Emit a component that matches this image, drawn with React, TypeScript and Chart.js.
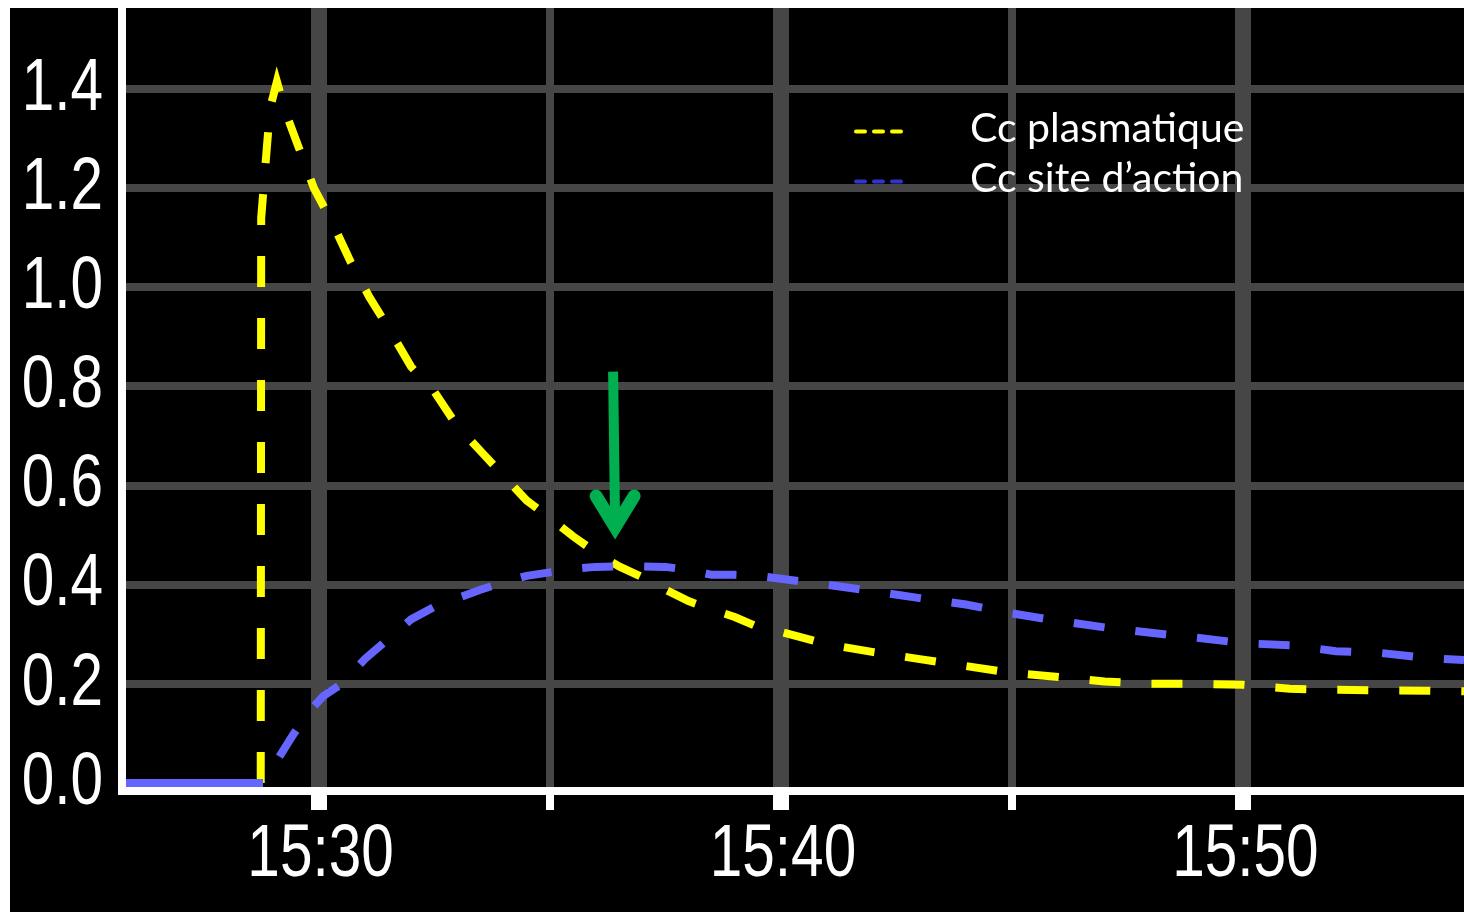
import { useEffect, useRef } from 'react';
import { Chart, registerables } from 'chart.js';

Chart.register(...registerables);

// time in minutes after 15:00
const plasmaTimes = [25.75, 28.75, 28.76, 28.95, 29.1, 29.3, 29.5, 29.9, 30.3, 30.7, 31.1, 31.5, 32.0, 32.5, 33.0, 33.5, 34.0, 34.5, 35.0, 35.5, 36.0, 36.5, 37.0, 37.5, 38.0, 38.5, 39.0, 39.5, 40.0, 41.0, 42.0, 43.0, 44.0, 45.0, 46.0, 47.0, 48.0, 49.0, 50.0, 51.0, 52.0, 53.0, 54.0, 54.77];
const plasmaValues = [0, 0, 1.14, 1.36, 1.415, 1.35, 1.30, 1.20, 1.13, 1.05, 0.98, 0.92, 0.84, 0.79, 0.72, 0.67, 0.62, 0.57, 0.535, 0.498, 0.465, 0.437, 0.415, 0.39, 0.367, 0.35, 0.335, 0.315, 0.305, 0.28, 0.264, 0.25, 0.236, 0.222, 0.214, 0.205, 0.2, 0.2, 0.198, 0.19, 0.188, 0.187, 0.186, 0.185];

const siteTimes = [25.75, 28.8, 29.0, 29.4, 29.75, 30.1, 30.5, 31.0, 31.5, 32.0, 32.5, 33.0, 33.5, 34.0, 34.5, 35.0, 35.5, 36.0, 36.5, 37.0, 37.5, 38.0, 38.5, 39.0, 39.5, 40.0, 41.0, 42.0, 43.0, 44.0, 45.0, 46.0, 47.0, 48.0, 49.0, 50.0, 51.0, 52.0, 53.0, 54.0, 54.77];
const siteValues = [0, 0, 0.03, 0.09, 0.14, 0.175, 0.2, 0.25, 0.29, 0.33, 0.355, 0.373, 0.39, 0.405, 0.418, 0.425, 0.432, 0.436, 0.437, 0.437, 0.436, 0.43, 0.42, 0.42, 0.418, 0.412, 0.4, 0.387, 0.373, 0.36, 0.342, 0.327, 0.314, 0.303, 0.293, 0.282, 0.278, 0.266, 0.262, 0.252, 0.248];

const seriesLabels = ['Cc plasmatique', 'Cc site d’action'];
const xTickValues = [30, 35, 40, 45, 50];
const yTickValues = [0, 0.2, 0.4, 0.6, 0.8, 1.0, 1.2, 1.4];
const xRange = [25.75, 54.77];
const yRange = [-0.0161, 1.5634];
const arrowTime = 36.37;
const arrowStart = 0.83;
const arrowEnd = 0.49;

const YELLOW = '#ffff00';
const BLUE = '#6666ff';
const LEGEND_BLUE = '#3333cc';
const GRID = '#464646';
const GREEN = '#00b050';
const TICK_FONT = "'Liberation Sans', 'DejaVu Sans', sans-serif";
const TICK_SIZE = 75;
const TICK_SQUEEZE = 0.78;

const flatSolid = (ctx: any) =>
  ctx.p0.parsed.y === 0 && ctx.p1.parsed.y === 0 ? [] : undefined;

// draws the scales' tick labels horizontally condensed (monitor-style narrow digits)
const narrowLabelsPlugin = {
  id: 'narrowLabels',
  afterDraw(chart: any) {
    const { ctx } = chart;
    const x = chart.scales.x;
    const y = chart.scales.y;
    ctx.save();
    ctx.fillStyle = '#ffffff';
    ctx.font = `${TICK_SIZE}px ${TICK_FONT}`;
    y.ticks.forEach((t: any) => {
      if (!t.label) return;
      ctx.save();
      ctx.translate(y.right - 19, y.getPixelForValue(t.value));
      ctx.scale(TICK_SQUEEZE, 1);
      ctx.textAlign = 'right';
      ctx.textBaseline = 'middle';
      ctx.fillText(t.label, 0, 0);
      ctx.restore();
    });
    x.ticks.forEach((t: any) => {
      if (!t.label) return;
      ctx.save();
      ctx.translate(x.getPixelForValue(t.value) + 2, x.top + 19 + 8);
      ctx.scale(TICK_SQUEEZE, 1);
      ctx.textAlign = 'center';
      ctx.textBaseline = 'top';
      ctx.fillText(t.label, 0, 0);
      ctx.restore();
    });
    ctx.restore();
  },
};

const overlayPlugin = {
  id: 'overlay',
  afterDraw(chart: any) {
    const { ctx } = chart;
    const x = chart.scales.x;
    const y = chart.scales.y;
    ctx.save();
    // legend
    const rows = [
      { label: seriesLabels[0], color: YELLOW },
      { label: seriesLabels[1], color: LEGEND_BLUE },
    ];
    rows.forEach((r, i) => {
      const cy = 123.5 + i * 50;
      ctx.strokeStyle = r.color;
      ctx.lineWidth = 4;
      ctx.lineCap = 'round';
      ctx.setLineDash([9, 9]);
      ctx.beginPath();
      ctx.moveTo(846, cy);
      ctx.lineTo(891, cy);
      ctx.stroke();
      ctx.setLineDash([]);
      ctx.fillStyle = '#ffffff';
      ctx.font = '41px Lato';
      ctx.textBaseline = 'alphabetic';
      ctx.textAlign = 'left';
      ctx.fillText(r.label, 960, 134 + i * 50);
    });
    // arrow
    const ax = x.getPixelForValue(arrowTime);
    const y0 = y.getPixelForValue(arrowStart);
    const y1 = y.getPixelForValue(arrowEnd);
    ctx.strokeStyle = GREEN;
    ctx.lineWidth = 10;
    ctx.lineCap = 'butt';
    ctx.beginPath();
    ctx.moveTo(ax, y0);
    ctx.lineTo(ax + 2, y1 - 14);
    ctx.stroke();
    ctx.lineWidth = 13;
    ctx.lineCap = 'round';
    ctx.lineJoin = 'miter';
    ctx.beginPath();
    ctx.moveTo(ax + 2 - 19, y1 - 44);
    ctx.lineTo(ax + 2, y1 - 13);
    ctx.lineTo(ax + 2 + 19, y1 - 44);
    ctx.stroke();
    ctx.restore();
  },
};

export default function App() {
  const ref = useRef<HTMLCanvasElement | null>(null);

  useEffect(() => {
    if (!ref.current) return;
    const chart = new Chart(ref.current, {
      type: 'line',
      data: {
        datasets: [
          {
            label: seriesLabels[0],
            data: plasmaTimes.map((t, i) => ({ x: t, y: plasmaValues[i] })),
            borderColor: YELLOW,
            borderWidth: 8,
            borderDash: [31, 31],
            borderCapStyle: 'butt',
            pointRadius: 0,
            tension: 0,
            order: 1,
            segment: { borderDash: flatSolid },
          },
          {
            label: seriesLabels[1],
            data: siteTimes.map((t, i) => ({ x: t, y: siteValues[i] })),
            borderColor: BLUE,
            borderWidth: 8,
            borderDash: [31, 31],
            borderDashOffset: 31,
            borderCapStyle: 'butt',
            pointRadius: 0,
            tension: 0,
            order: 0,
            segment: { borderDash: flatSolid },
          },
        ],
      } as any,
      options: {
        animation: false,
        responsive: false,
        devicePixelRatio: 1,
        events: [],
        layout: { padding: 0 },
        plugins: { legend: { display: false }, tooltip: { enabled: false } },
        scales: {
          x: {
            type: 'linear',
            min: xRange[0],
            max: xRange[1],
            afterBuildTicks: (s: any) => {
              s.ticks = xTickValues.map((v) => ({ value: v }));
            },
            afterFit: (s: any) => {
              s.height = 121;
              s.paddingLeft = 0;
              s.paddingRight = 0;
            },
            grid: {
              color: GRID,
              lineWidth: (c: any) => (c.tick && c.tick.value % 10 === 0 ? 16 : 8),
              tickWidth: (c: any) => (c.tick && c.tick.value % 10 === 0 ? 16 : 8),
              tickColor: '#ffffff',
              tickLength: 19,
              drawTicks: true,
            },
            border: { color: '#ffffff', width: 8, z: 1 },
            ticks: {
              color: 'rgba(0,0,0,0)',
              font: { family: TICK_FONT, size: TICK_SIZE },
              padding: 3,
              maxRotation: 0,
              autoSkip: false,
              callback: (v: any) => (Number(v) % 10 === 0 ? `15:${v}` : ''),
            },
          },
          y: {
            type: 'linear',
            min: yRange[0],
            max: yRange[1],
            afterBuildTicks: (s: any) => {
              s.ticks = yTickValues.map((v) => ({ value: v }));
            },
            afterFit: (s: any) => {
              s.width = 112;
              s.paddingTop = 0;
              s.paddingBottom = 0;
            },
            grid: {
              color: (c: any) => (c.tick && c.tick.value === 0 ? 'rgba(0,0,0,0)' : GRID),
              lineWidth: 8,
              drawTicks: false,
            },
            border: { color: '#ffffff', width: 8, z: 1 },
            ticks: {
              color: 'rgba(0,0,0,0)',
              font: { family: TICK_FONT, size: TICK_SIZE },
              padding: 19,
              callback: (v: any) => Number(v).toFixed(1),
            },
          },
        },
      } as any,
      plugins: [narrowLabelsPlugin, overlayPlugin],
    });
    return () => chart.destroy();
  }, []);

  return (
    <div style={{ position: 'fixed', left: 10, top: 8, width: 1454, height: 904, background: '#000' }}>
      <canvas ref={ref} width={1454} height={904} style={{ display: 'block', background: '#000' }} />
    </div>
  );
}
